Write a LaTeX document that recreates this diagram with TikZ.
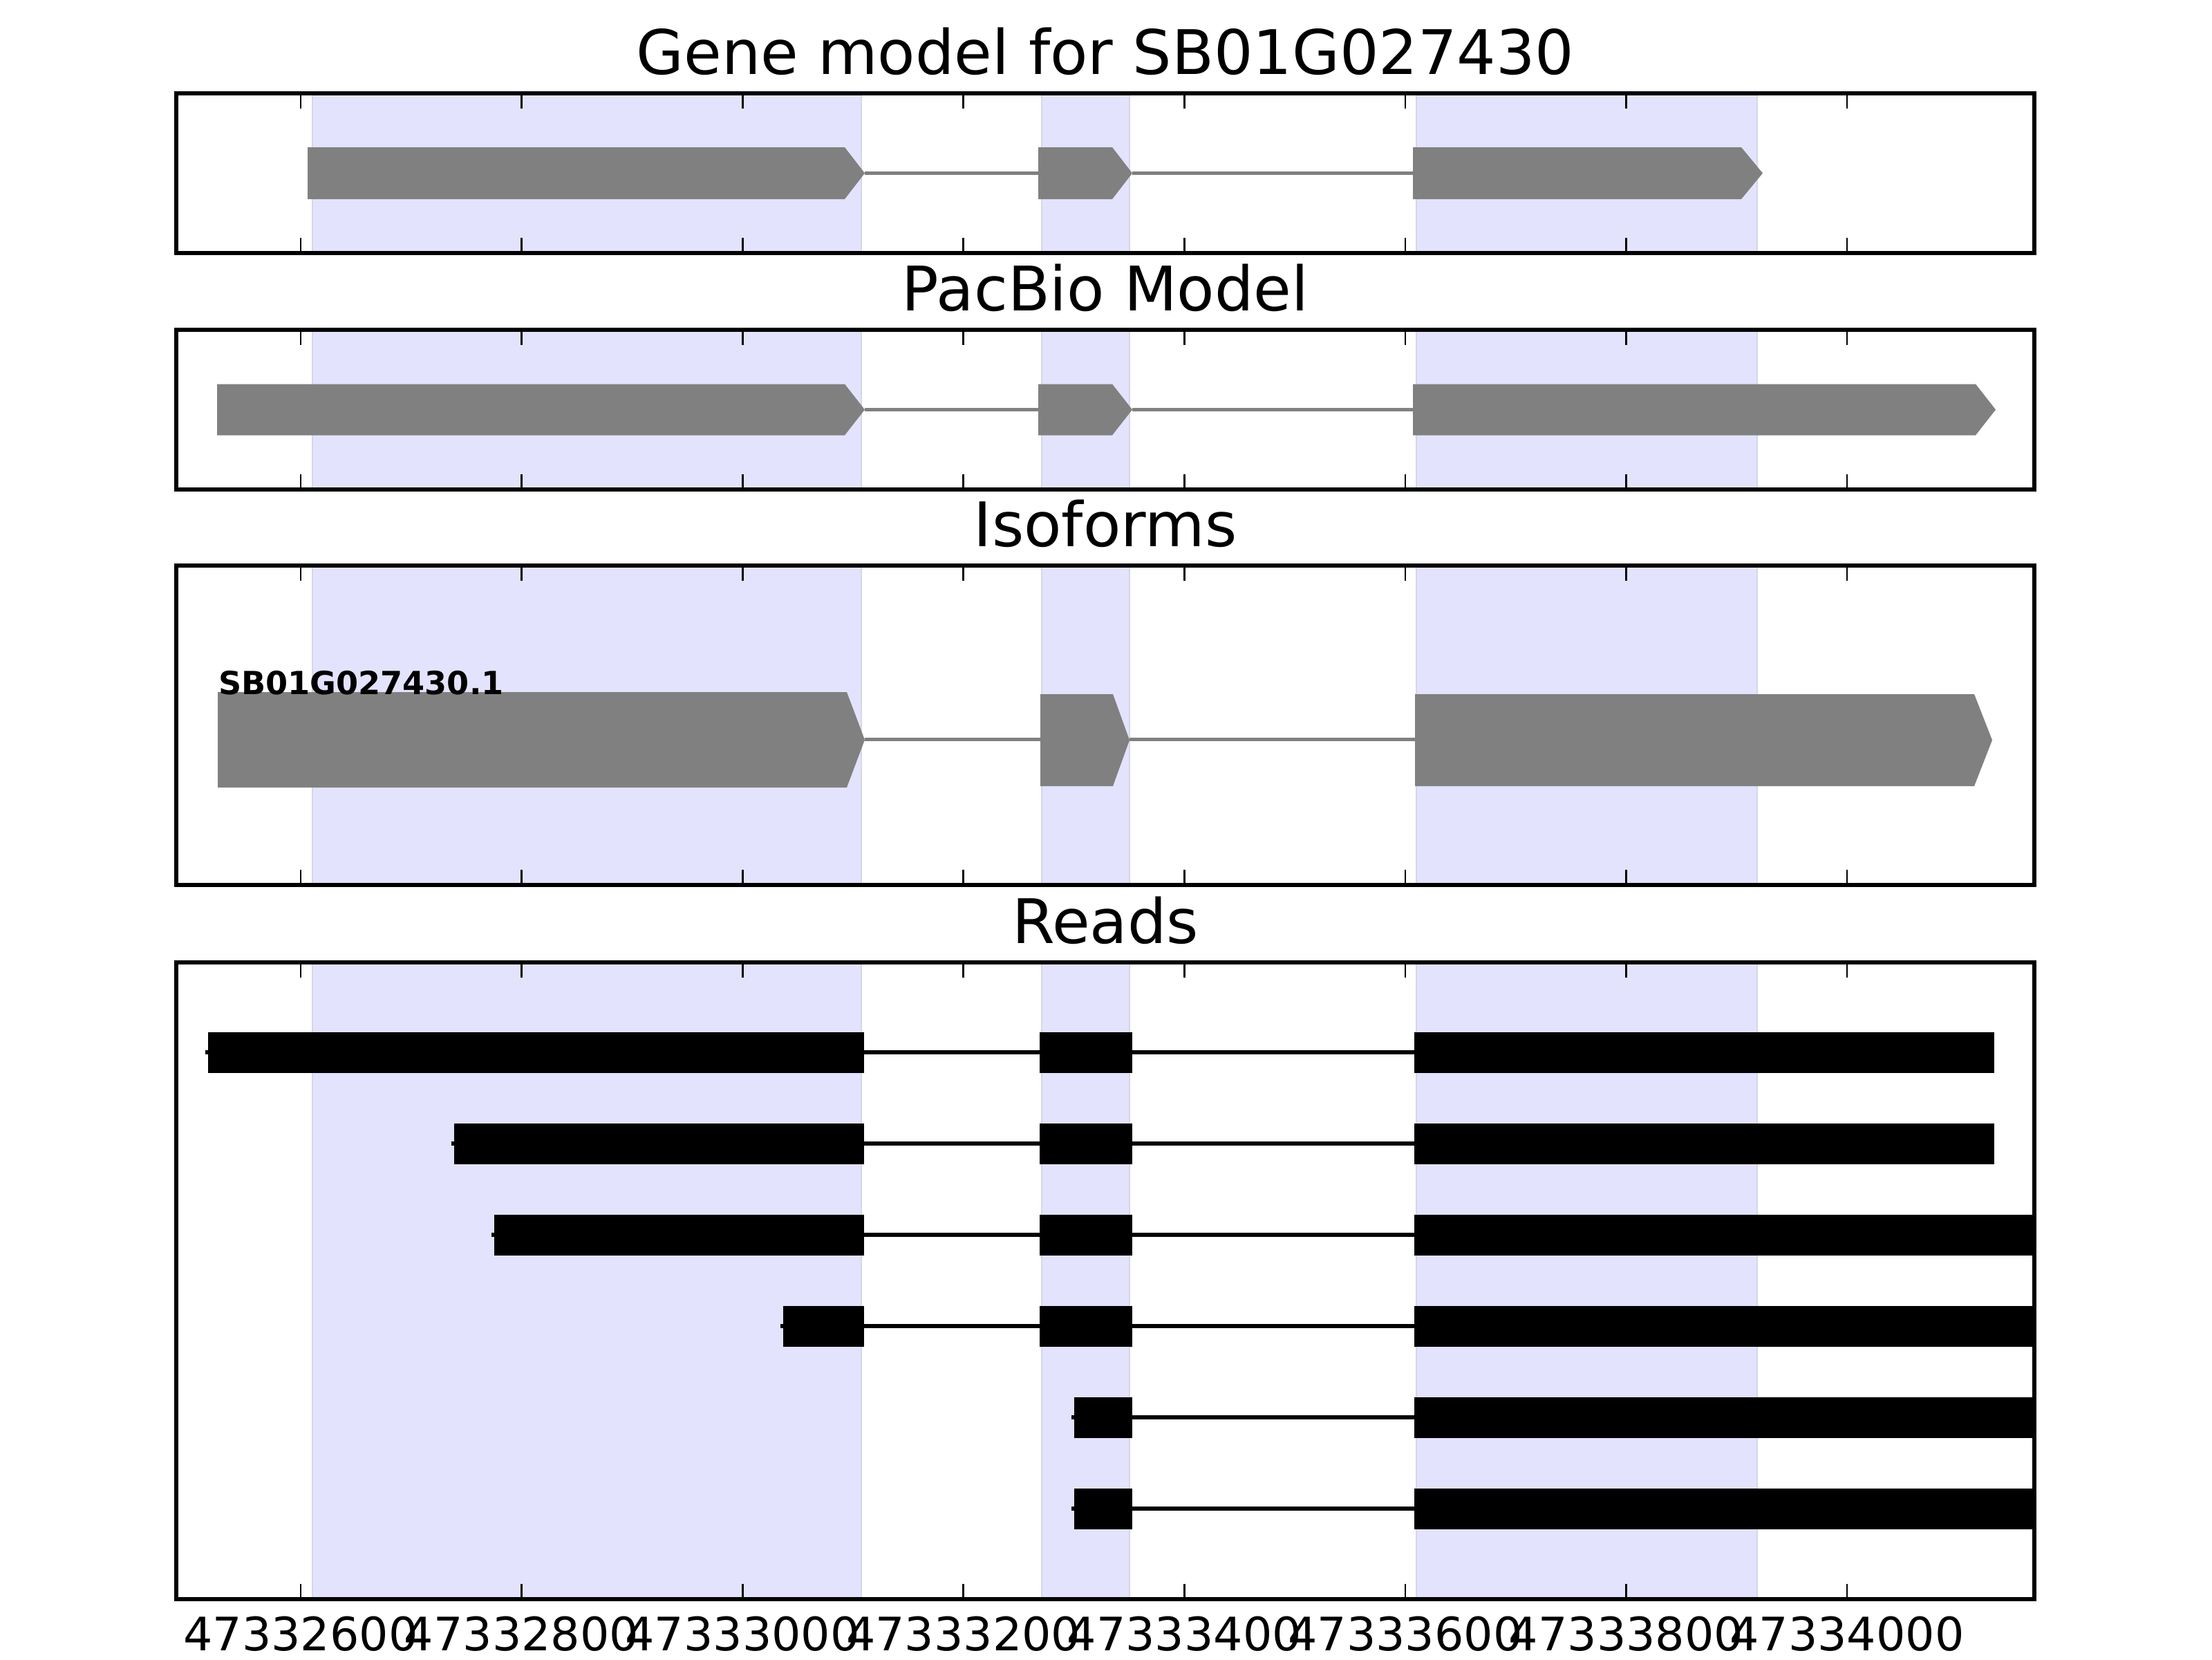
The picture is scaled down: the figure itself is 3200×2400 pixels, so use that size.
\documentclass[tikz,border=0pt]{standalone}
\usepackage{fontspec}
\setmainfont{DejaVu Sans}
\definecolor{spanfill}{RGB}{227,227,253}
\definecolor{spanedge}{RGB}{214,214,232}
\definecolor{exongray}{RGB}{128,128,128}

\begin{document}
\begin{tikzpicture}[x=0.18pt,y=-0.18pt,
        span/.style={fill=spanfill,draw=spanedge,line width=0.5pt},
        exon/.style={fill=exongray},
        intron/.style={draw=exongray,line width=1pt},
        readbar/.style={fill=black},
        readline/.style={draw=black,line width=1pt},
        axisframe/.style={draw=black,line width=1pt},
        tickmark/.style={draw=black,line width=0.5pt},
        paneltitle/.style={anchor=base,inner sep=0pt,font=\fontsize{16}{19}\selectfont},
        ticklabel/.style={anchor=base,inner sep=0pt,font=\fontsize{12}{14}\selectfont}]
    \useasboundingbox[fill=white] (0,0) rectangle (3200,2400);

    \foreach \ytop/\ybot/\ptitle/\pname in {135/366/Gene model for SB01G027430/gene, 477/708/PacBio Model/pacbio, 818/1280/Isoforms/iso, 1392/2313/Reads/reads} {
        \foreach \xa/\xb in {452/1246, 1507/1634, 2049/2542}
            \filldraw[span] (\xa,\ytop) rectangle (\xb,\ybot);
        \node[paneltitle] (\pname-title) at (1599,\ytop-28) {\ptitle};
    }

    \coordinate (G1) at (1251,250.5);
    \coordinate (G2) at (1502,250.5);
    \coordinate (G3) at (1638,250.5);
    \coordinate (G4) at (2044,250.5);
    \draw[intron] (G1) -- (G2);
    \draw[intron] (G3) -- (G4);
    \foreach \xa/\xb/\xc in {445/1222/1251, 1502/1609/1638, 2044/2519/2550}
        \fill[exon] (\xa,213) -- (\xb,213) -- (\xc,250.5) -- (\xb,288) -- (\xa,288) -- cycle;

    \coordinate (P1) at (1251,592.5);
    \coordinate (P2) at (1502,592.5);
    \coordinate (P3) at (1638,592.5);
    \coordinate (P4) at (2044,592.5);
    \draw[intron] (P1) -- (P2);
    \draw[intron] (P3) -- (P4);
    \foreach \xa/\xb/\xc in {314/1222/1251, 1502/1609/1638, 2044/2858/2887}
        \fill[exon] (\xa,555.5) -- (\xb,555.5) -- (\xc,592.5) -- (\xb,629.5) -- (\xa,629.5) -- cycle;

    \coordinate (I1) at (1251,1069.5);
    \coordinate (I2) at (1505,1069.5);
    \coordinate (I3) at (1634,1069.5);
    \coordinate (I4) at (2047,1069.5);
    \draw[intron] (I1) -- (I2);
    \draw[intron] (I3) -- (I4);
    \foreach \xa/\xb/\xc/\ya/\yb in {315/1225/1251/1001/1139, 1505/1610/1634/1004/1137, 2047/2856/2882/1004/1137}
        \fill[exon] (\xa,\ya) -- (\xb,\ya) -- (\xc,{(\ya+\yb)/2}) -- (\xb,\yb) -- (\xa,\yb) -- cycle;
    \node[anchor=base west,inner sep=0pt,font=\bfseries\fontsize{8.3}{10}\selectfont] (iso-label) at (315,1004) {SB01G027430.1};

    \foreach \n/\y/\s/\e in {1/1522/301/2885, 2/1654/657/2885, 3/1786/715/2943, 4/1918/1133/2943, 5/2050/1554/2943, 6/2182/1554/2943} {
        \coordinate (read\n-start) at (\s-4,\y);
        \coordinate (read\n-end) at (\e,\y);
        \draw[readline] (read\n-start) -- (read\n-end);
    }
    \foreach \y/\xa/\xb in {1522/301/1250, 1522/1504/1638, 1522/2046/2885,
            1654/657/1250, 1654/1504/1638, 1654/2046/2885,
            1786/715/1250, 1786/1504/1638, 1786/2046/2943,
            1918/1133/1250, 1918/1504/1638, 1918/2046/2943,
            2050/1554/1638, 2050/2046/2943,
            2182/1554/1638, 2182/2046/2943}
        \fill[readbar] (\xa,\y-29.5) rectangle (\xb,\y+29.5);

    \foreach \ytop/\ybot in {135/366, 477/708, 818/1280, 1392/2313} {
        \foreach \i in {0,...,7} {
            \draw[tickmark] (435+\i*319.57,\ytop) -- ++(0,22);
            \draw[tickmark] (435+\i*319.57,\ybot) -- ++(0,-22);
        }
        \draw[axisframe] (255,\ytop) rectangle (2943,\ybot);
    }
    \foreach \i/\lab in {0/47332600, 1/47332800, 2/47333000, 3/47333200, 4/47333400, 5/47333600, 6/47333800, 7/47334000}
        \node[ticklabel] (tick\i) at (435+\i*319.57,2387) {\lab};
\end{tikzpicture}
\end{document}
